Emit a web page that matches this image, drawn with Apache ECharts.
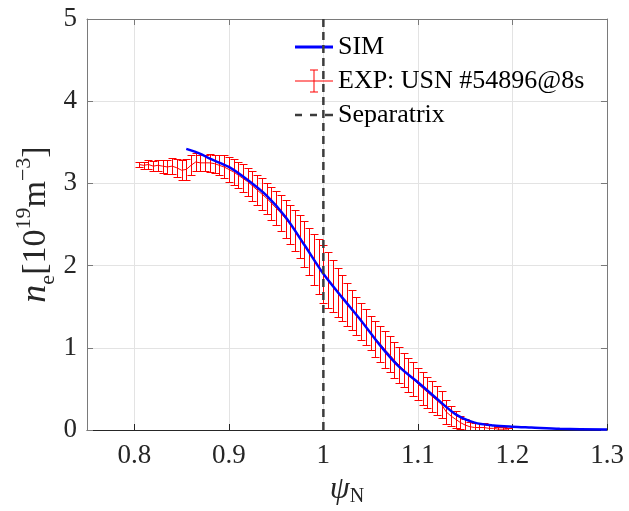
<!DOCTYPE html>
<html>
<head>
<meta charset="utf-8">
<script src="https://cdn.jsdelivr.net/npm/echarts@6/dist/echarts.min.js"></script>
<style>
  html, body { margin: 0; padding: 0; background: #fff; }
  #chart { width: 629px; height: 511px; }
</style>
</head>
<body>
<div id="chart"></div>
<script>
const xTicks = [0.8, 0.9, 1.0, 1.1, 1.2, 1.3];
const yTicks = [0, 1, 2, 3, 4, 5];

// simulated profile
const simPsi = [0.855, 0.87, 0.88, 0.9, 0.92, 0.94, 0.96, 0.98, 1.0, 1.02, 1.04, 1.06,
  1.08, 1.1, 1.12, 1.14, 1.16, 1.18, 1.2, 1.22, 1.25, 1.3];
const simNe = [3.42, 3.36, 3.30, 3.20, 3.04, 2.85, 2.59, 2.25, 1.90, 1.61, 1.33, 1.03,
  0.77, 0.58, 0.38, 0.19, 0.09, 0.055, 0.04, 0.03, 0.015, 0.005];

// measured profile with error bars
const expPsi = [0.805, 0.81, 0.815, 0.82, 0.825, 0.83, 0.835, 0.84, 0.845, 0.85,
  0.855, 0.86, 0.865, 0.87, 0.875, 0.88, 0.885, 0.89, 0.895, 0.9,
  0.905, 0.91, 0.915, 0.92, 0.925, 0.93, 0.935, 0.94, 0.945, 0.95,
  0.955, 0.96, 0.965, 0.97, 0.975, 0.98, 0.985, 0.99, 0.995, 1.0,
  1.005, 1.01, 1.015, 1.02, 1.025, 1.03, 1.035, 1.04, 1.045, 1.05,
  1.055, 1.06, 1.065, 1.07, 1.075, 1.08, 1.085, 1.09, 1.095, 1.1,
  1.105, 1.11, 1.115, 1.12, 1.125, 1.13, 1.135, 1.14, 1.145, 1.15,
  1.155, 1.16, 1.165, 1.17, 1.175, 1.18, 1.185, 1.19, 1.195];
const expNe = [3.23, 3.22, 3.23, 3.21, 3.22, 3.21, 3.20, 3.21, 3.19, 3.16,
  3.17, 3.22, 3.26, 3.25, 3.25, 3.25, 3.24, 3.22, 3.20, 3.17,
  3.14, 3.10, 3.06, 3.02, 2.97, 2.92, 2.87, 2.82, 2.76, 2.70,
  2.64, 2.57, 2.50, 2.43, 2.35, 2.26, 2.17, 2.08, 1.99, 1.90,
  1.82, 1.75, 1.67, 1.60, 1.53, 1.46, 1.39, 1.32, 1.25, 1.18,
  1.11, 1.05, 0.98, 0.92, 0.85, 0.79, 0.73, 0.67, 0.62, 0.56,
  0.51, 0.46, 0.41, 0.36, 0.31, 0.22, 0.17, 0.13, 0.09, 0.06,
  0.04, 0.03, 0.03, 0.03, 0.02, 0.02, 0.01, 0.01, 0.01];
const expErr = [0.03, 0.04, 0.05, 0.06, 0.07, 0.08, 0.09, 0.10, 0.11, 0.12,
  0.13, 0.12, 0.11, 0.10, 0.10, 0.11, 0.11, 0.12, 0.14, 0.15,
  0.16, 0.16, 0.17, 0.17, 0.18, 0.18, 0.19, 0.19, 0.20, 0.21,
  0.22, 0.23, 0.24, 0.25, 0.26, 0.28, 0.29, 0.31, 0.33, 0.35,
  0.34, 0.32, 0.30, 0.28, 0.26, 0.24, 0.23, 0.22, 0.22, 0.21,
  0.22, 0.22, 0.22, 0.22, 0.22, 0.22, 0.21, 0.21, 0.21, 0.20,
  0.20, 0.19, 0.19, 0.18, 0.17, 0.15, 0.12, 0.10, 0.08, 0.07,
  0.06, 0.05, 0.05, 0.05, 0.04, 0.04, 0.03, 0.03, 0.02];

const separatrixPsi = 1.0;

const SIM_NAME = 'SIM';
const EXP_NAME = 'EXP: USN #54896@8s';
const SEP_NAME = 'Separatrix';

const serif = "'Liberation Serif', 'Times New Roman', serif";
const axisColor = '#262626';
const boxColor = '#7a7a7a';
const gridColor = '#e3e3e3';

const chart = echarts.init(document.getElementById('chart'));

// vertical bar with caps, snapped to pixel centres so 1px strokes stay crisp
const renderErrorBar = (params, api) => {
  const psi = api.value(0);
  const ne = api.value(1);
  const err = api.value(2);
  const hi = api.coord([psi, ne + err]);
  const lo = api.coord([psi, ne - err]);
  const x = Math.round(hi[0]) + 0.5;
  const yHi = Math.round(hi[1]) + 0.5;
  const yLo = Math.round(lo[1]) + 0.5;
  const half = 4;
  const style = { stroke: '#ff0000', lineWidth: 1 };
  return {
    type: 'group',
    children: [
      { type: 'line', shape: { x1: x, y1: yHi, x2: x, y2: yLo }, style },
      { type: 'line', shape: { x1: x - half, y1: yHi, x2: x + half, y2: yHi }, style },
      { type: 'line', shape: { x1: x - half, y1: yLo, x2: x + half, y2: yLo }, style }
    ]
  };
};

// legend icons drawn in a 38x24 box (leading moves pin the bounding box)
const lineIcon = 'path://M0,0 M38,24 M0,10.5 H38 V13.5 H0 Z';
const errorBarIcon = 'path://M0,0 M38,24 M0,11.6 H38 V12.4 H0 Z M18.5,1 H19.5 V23 H18.5 Z M15,0.5 H23 V1.5 H15 Z M15,22.5 H23 V23.5 H15 Z';
const dashIcon = 'path://M0,0 M38,24 M0,10.8 H7 V13.2 H0 Z M15,10.8 H22 V13.2 H15 Z M30,10.8 H38 V13.2 H30 Z';

const option = {
  animation: false,
  backgroundColor: '#fff',
  grid: { left: 87, right: 22, top: 19, bottom: 81, outerBoundsMode: 'none' },
  legend: {
    orient: 'vertical',
    left: 295,
    top: 34,
    padding: 0,
    itemWidth: 38,
    itemHeight: 24,
    itemGap: 8,
    textStyle: { fontFamily: serif, fontSize: 26, color: '#000', lineHeight: 24 },
    data: [
      { name: SIM_NAME, icon: lineIcon },
      { name: EXP_NAME, icon: errorBarIcon },
      { name: SEP_NAME, icon: dashIcon }
    ]
  },
  xAxis: [
    {
      type: 'value',
      min: 0.75,
      max: 1.3,
      name: '{psi|ψ}{sub|N}',
      nameLocation: 'middle',
      nameGap: 42,
      nameTextStyle: {
        color: axisColor,
        rich: {
          psi: { fontFamily: serif, fontStyle: 'italic', fontSize: 32, lineHeight: 34 },
          sub: { fontFamily: serif, fontSize: 20, verticalAlign: 'bottom', lineHeight: 22 }
        }
      },
      axisLine: { show: true, onZero: false, lineStyle: { color: axisColor, width: 1 } },
      axisTick: { show: true, inside: true, length: 6, customValues: xTicks, lineStyle: { color: axisColor } },
      axisLabel: {
        customValues: xTicks,
        formatter: (v) => String(v),
        fontFamily: serif,
        fontSize: 27,
        color: axisColor,
        margin: 12
      },
      splitLine: { show: true, lineStyle: { color: gridColor, width: 1 } }
    },
    {
      type: 'value',
      position: 'top',
      min: 0.75,
      max: 1.3,
      axisLine: { show: true, onZero: false, lineStyle: { color: boxColor, width: 1 } },
      axisTick: { show: true, inside: true, length: 6, customValues: xTicks, lineStyle: { color: boxColor } },
      axisLabel: { show: false },
      splitLine: { show: false }
    }
  ],
  yAxis: [
    {
      type: 'value',
      min: 0,
      max: 5,
      interval: 1,
      name: '{n|n}{sub|e}{b|[10}{sup|19}{b|m}{sup|−3}{b|]}',
      nameLocation: 'middle',
      nameRotate: 90,
      nameMoveOverlap: false,
      nameGap: 28,
      nameTextStyle: {
        color: axisColor,
        rich: {
          n: { fontFamily: serif, fontStyle: 'italic', fontSize: 36, lineHeight: 46 },
          b: { fontFamily: serif, fontSize: 34, lineHeight: 46 },
          sub: { fontFamily: serif, fontSize: 22, verticalAlign: 'bottom', lineHeight: 22 },
          sup: { fontFamily: serif, fontSize: 22, verticalAlign: 'top', lineHeight: 22 }
        }
      },
      axisLine: { show: true, onZero: false, lineStyle: { color: boxColor, width: 1 } },
      axisTick: { show: true, inside: true, length: 6, lineStyle: { color: boxColor } },
      axisLabel: {
        formatter: (v) => String(v),
        fontFamily: serif,
        fontSize: 27,
        color: axisColor,
        margin: 10
      },
      splitLine: { show: true, lineStyle: { color: gridColor, width: 1 } }
    },
    {
      type: 'value',
      position: 'right',
      min: 0,
      max: 5,
      interval: 1,
      axisLine: { show: true, onZero: false, lineStyle: { color: boxColor, width: 1 } },
      axisTick: { show: true, inside: true, length: 6, lineStyle: { color: boxColor } },
      axisLabel: { show: false },
      splitLine: { show: false }
    }
  ],
  series: [
    {
      name: EXP_NAME,
      type: 'custom',
      clip: true,
      renderItem: renderErrorBar,
      itemStyle: { color: '#ff0000' },
      encode: { x: 0, y: 1 },
      data: expPsi.map((p, i) => [p, expNe[i], expErr[i]]),
      z: 2
    },
    {
      name: EXP_NAME,
      type: 'line',
      symbol: 'none',
      color: '#ff0000',
      lineStyle: { color: '#ff0000', width: 1 },
      data: expPsi.map((p, i) => [p, expNe[i]]),
      z: 2
    },
    {
      name: SIM_NAME,
      type: 'line',
      symbol: 'none',
      smooth: 0.3,
      color: '#0000ff',
      lineStyle: { color: '#0000ff', width: 2.5 },
      data: simPsi.map((p, i) => [p, simNe[i]]),
      z: 3
    },
    {
      name: SEP_NAME,
      type: 'line',
      symbol: 'none',
      color: '#3c3c3c',
      lineStyle: { color: '#3c3c3c', width: 2.5, type: [8, 5] },
      data: [[separatrixPsi, yTicks[0]], [separatrixPsi, yTicks[yTicks.length - 1]]],
      z: 4
    }
  ]
};

chart.setOption(option);
window.addEventListener('resize', () => chart.resize());
</script>
</body>
</html>
